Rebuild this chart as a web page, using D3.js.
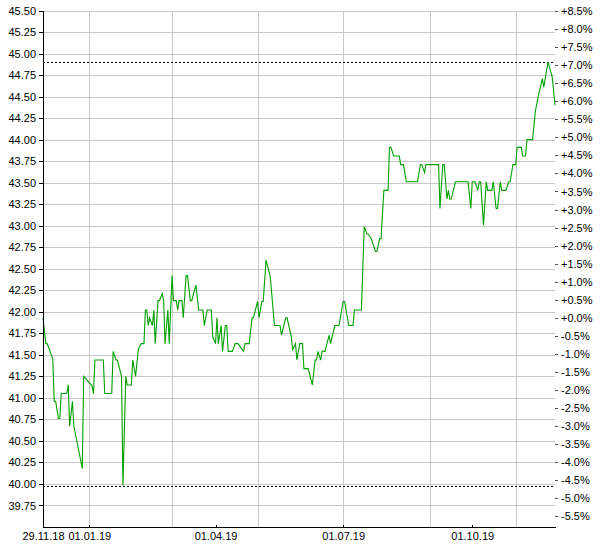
<!DOCTYPE html>
<html><head><meta charset="utf-8">
<script src="https://cdn.jsdelivr.net/npm/d3@7"></script>
<style>
body{margin:0;background:#fff}
svg{display:block}
text{font-family:Arial,"Liberation Sans",sans-serif;font-size:11px;fill:#000}
</style>
</head><body><svg id="chart" width="600" height="550"></svg>
<script>
const dates = [
"2018-11-29","2018-12-01","2018-12-02","2018-12-06","2018-12-07","2018-12-08","2018-12-10","2018-12-11","2018-12-12","2018-12-16",
"2018-12-17","2018-12-18","2018-12-20","2018-12-21","2018-12-27","2018-12-28","2019-01-03","2019-01-04","2019-01-05","2019-01-11",
"2019-01-12","2019-01-17","2019-01-18","2019-01-20","2019-01-21","2019-01-24","2019-01-25","2019-01-27","2019-01-28","2019-01-31",
"2019-02-01","2019-02-03","2019-02-05","2019-02-07","2019-02-09","2019-02-10","2019-02-11","2019-02-12","2019-02-13","2019-02-15",
"2019-02-16","2019-02-17","2019-02-19","2019-02-20","2019-02-22","2019-02-23","2019-02-24","2019-02-26","2019-02-27","2019-03-01",
"2019-03-02","2019-03-04","2019-03-05","2019-03-06","2019-03-08","2019-03-09","2019-03-11","2019-03-12","2019-03-14","2019-03-15",
"2019-03-18","2019-03-20","2019-03-23","2019-03-24","2019-03-26","2019-03-29","2019-03-30","2019-04-01","2019-04-02","2019-04-03",
"2019-04-05","2019-04-06","2019-04-08","2019-04-09","2019-04-10","2019-04-13","2019-04-15","2019-04-17","2019-04-21","2019-04-22",
"2019-04-25","2019-04-27","2019-04-28","2019-05-01","2019-05-02","2019-05-04","2019-05-05","2019-05-07","2019-05-10","2019-05-13",
"2019-05-17","2019-05-18","2019-05-21","2019-05-22","2019-05-25","2019-05-26","2019-05-28","2019-05-29","2019-05-31","2019-06-02",
"2019-06-03","2019-06-06","2019-06-09","2019-06-11","2019-06-12","2019-06-13","2019-06-15","2019-06-16","2019-06-18","2019-06-21",
"2019-06-22","2019-06-25","2019-06-28","2019-07-01","2019-07-02","2019-07-05","2019-07-08","2019-07-09","2019-07-14","2019-07-16",
"2019-07-18","2019-07-19","2019-07-21","2019-07-24","2019-07-25","2019-07-27","2019-07-28","2019-07-30","2019-08-02","2019-08-03",
"2019-08-04","2019-08-06","2019-08-10","2019-08-11","2019-08-13","2019-08-15","2019-08-23","2019-08-25","2019-08-26","2019-08-28",
"2019-08-29","2019-09-07","2019-09-08","2019-09-10","2019-09-11","2019-09-13","2019-09-14","2019-09-15","2019-09-16","2019-09-19",
"2019-09-28","2019-09-30","2019-10-01","2019-10-03","2019-10-05","2019-10-06","2019-10-07","2019-10-09","2019-10-11","2019-10-12",
"2019-10-15","2019-10-16","2019-10-18","2019-10-19","2019-10-21","2019-10-22","2019-10-25","2019-10-27","2019-10-28","2019-10-30",
"2019-11-01","2019-11-02","2019-11-05","2019-11-06","2019-11-08","2019-11-09","2019-11-13","2019-11-15","2019-11-17","2019-11-20",
"2019-11-21","2019-11-24","2019-11-27","2019-11-29"
];
const prices = [
41.93,41.63,41.63,41.45,40.96,40.96,40.76,40.76,41.05,41.05,
41.15,40.67,40.96,40.67,40.18,41.25,41.14,41.05,41.44,41.44,
41.05,41.05,41.54,41.44,41.44,41.25,39.98,41.25,41.15,41.15,
41.44,41.25,41.57,41.63,41.63,42.02,42.02,41.84,41.93,41.84,
42.02,41.63,42.13,42.13,42.21,42.13,41.63,42.02,41.63,42.42,
42.13,42.13,42.02,42.13,42.13,41.93,42.42,42.42,42.13,42.13,
42.31,42.02,42.02,41.84,42.02,42.02,41.71,41.63,41.93,41.63,
41.84,41.54,41.84,41.84,41.54,41.54,41.63,41.63,41.54,41.63,
41.63,41.93,41.93,42.12,41.93,42.12,42.12,42.60,42.41,41.84,
41.84,41.73,41.93,41.93,41.71,41.56,41.63,41.44,41.63,41.63,
41.34,41.34,41.15,41.44,41.44,41.54,41.44,41.54,41.54,41.73,
41.63,41.84,41.84,42.12,42.12,41.84,41.84,42.02,42.02,42.99,
42.90,42.90,42.85,42.70,42.70,42.85,42.85,43.41,43.41,43.91,
43.91,43.81,43.81,43.71,43.71,43.51,43.51,43.71,43.71,43.62,
43.71,43.71,43.20,43.71,43.71,43.31,43.41,43.31,43.31,43.51,
43.51,43.20,43.51,43.51,43.41,43.51,43.51,43.01,43.51,43.41,
43.41,43.51,43.20,43.20,43.51,43.41,43.41,43.51,43.51,43.71,
43.71,43.91,43.91,43.81,43.81,44.00,44.00,44.33,44.50,44.71,
44.61,44.90,44.73,44.40
];
const leftTicks = [39.75,40.00,40.25,40.50,40.75,41.00,41.25,41.50,41.75,42.00,42.25,42.50,42.75,43.00,43.25,43.50,43.75,44.00,44.25,44.50,44.75,45.00,45.25,45.50];
const rightTicks = [-5.5,-5.0,-4.5,-4.0,-3.5,-3.0,-2.5,-2.0,-1.5,-1.0,-0.5,0.0,0.5,1.0,1.5,2.0,2.5,3.0,3.5,4.0,4.5,5.0,5.5,6.0,6.5,7.0,7.5,8.0,8.5];
const xLabelDates = ["2018-11-29","2019-01-01","2019-04-01","2019-07-01","2019-10-01"];
const gridDates = ["2019-01-01","2019-03-01","2019-05-01","2019-07-01","2019-09-01","2019-11-01"];
const dateRange = ["2018-11-29","2019-11-29"];
const valueRange = [39.5, 45.5];

const parse = d3.timeParse("%Y-%m-%d");
const data = dates.map((d,i)=>({date:parse(d), v:prices[i]}));
const L=43, R=555, T=10.5, B=527;
const svg = d3.select("#chart");

const x = d3.scaleTime().domain(dateRange.map(parse)).range([L, R]);
const y = d3.scaleLinear().domain(valueRange).range([B, T]);
const base = prices[0];
const yP = d3.scaleLinear().domain(valueRange.map(v=>(v/base-1)*100)).range([B, T]);

// gridlines
const grid = svg.append("g").attr("shape-rendering","crispEdges").attr("stroke","#c8c8c8").attr("stroke-width",1);
grid.selectAll("line.h").data(leftTicks).join("line").attr("class","h")
  .attr("x1",L).attr("x2",R).attr("y1",d=>Math.round(y(d))+0.5).attr("y2",d=>Math.round(y(d))+0.5);
grid.selectAll("line.v").data(gridDates.map(parse)).join("line").attr("class","v")
  .attr("y1",T).attr("y2",B).attr("x1",d=>Math.round(x(d))+0.5).attr("x2",d=>Math.round(x(d))+0.5);

// min / max dotted lines
const vmax = d3.max(prices), vmin = d3.min(prices);
svg.append("g").selectAll("line").data([vmax, vmin]).join("line")
  .attr("x1",L).attr("x2",R).attr("y1",d=>Math.round(y(d))+0.5).attr("y2",d=>Math.round(y(d))+0.5)
  .attr("stroke","#000").attr("stroke-dasharray","2,2").attr("shape-rendering","crispEdges");

// price line
svg.append("path").datum(data)
  .attr("fill","none").attr("stroke","#00a000").attr("stroke-width",1.1)
  .attr("d", d3.line().x(d=>x(d.date)).y(d=>y(d.v)));

// left axis
const gl = svg.append("g").attr("transform",`translate(${L},0)`)
  .call(d3.axisLeft(y).tickValues(leftTicks).tickSizeInner(4).tickSizeOuter(0).tickPadding(3).tickFormat(d3.format(".2f")));
gl.select(".domain").attr("shape-rendering","crispEdges");
gl.selectAll(".tick line").attr("shape-rendering","crispEdges");
gl.selectAll("text").style("font-family",'Arial,"Liberation Sans",sans-serif').style("font-size","11px").attr("fill","#000");

// right axis
const gr = svg.append("g").attr("transform",`translate(${R},0)`)
  .call(d3.axisRight(yP).tickValues(rightTicks).tickSizeInner(3).tickSizeOuter(0).tickPadding(3)
    .tickFormat(d=> (d>=0?"+":"-") + Math.abs(d).toFixed(1) + "%"));
gr.select(".domain").remove();
gr.selectAll(".tick line").attr("stroke","#555").attr("shape-rendering","crispEdges");
gr.selectAll("text").style("font-family",'Arial,"Liberation Sans",sans-serif').style("font-size","11px").attr("fill","#000");

// bottom axis
const gb = svg.append("g").attr("transform",`translate(0,${B})`)
  .call(d3.axisBottom(x).tickValues(xLabelDates.map(parse)).tickSizeInner(-2).tickSizeOuter(0).tickPadding(5)
    .tickFormat(d3.timeFormat("%d.%m.%y")));
gb.select(".domain").attr("shape-rendering","crispEdges");
gb.selectAll(".tick line").attr("shape-rendering","crispEdges");
gb.selectAll("text").style("font-family",'Arial,"Liberation Sans",sans-serif').style("font-size","11px").attr("fill","#000");
</script>
</body></html>
